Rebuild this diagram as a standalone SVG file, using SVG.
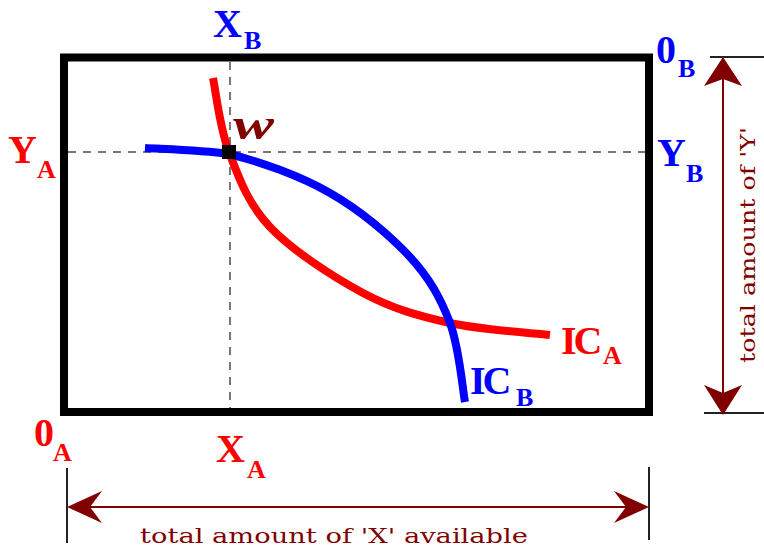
<svg xmlns="http://www.w3.org/2000/svg" width="764" height="549" viewBox="0 0 764 549">
<style>
.lbl{font-family:"Liberation Serif","DejaVu Serif",serif;font-weight:bold;font-size:40px}
.sub{font-size:26px}
.red{fill:#ff0000}
.blue{fill:#0000ff}
.cap{font-family:"DejaVu Serif","Liberation Serif",serif;font-size:20px;fill:#800000}
.dash{stroke:#777;stroke-width:2;stroke-dasharray:8 7;fill:none}
.tick{stroke:#222;stroke-width:2}
.arr{stroke:#800000;stroke-width:2;fill:none}
.head{fill:#800000}
.curve{fill:none;stroke-width:8;stroke-linecap:butt}
</style>
<rect width="764" height="549" fill="#fff"/>
<g id="box"><rect x="64" y="57.5" width="585" height="354.5" fill="none" stroke="#000" stroke-width="8"/></g>
<g id="guides">
<line class="dash" x1="230" y1="62" x2="230" y2="408"/>
<line class="dash" x1="68" y1="152" x2="645" y2="152"/>
</g>
<g id="ic-a"><path class="curve" stroke="#ff0000" d="M213,78 C215.7,90.3 219.5,127.2 229,152 C238.5,176.8 247.7,203.5 270,227 C292.3,250.5 333,277 363,293 C393,309 418.8,316 450,323 C481.2,330 533.3,333 550,335"/></g>
<g id="ic-b"><path class="curve" stroke="#0000ff" d="M145,148 C159,149 200,150 229,154 C259.8,161.5 299.8,175.8 330,193 C360.2,210.2 390,235.3 410,257 C430,278.7 440.8,298.8 450,323 C459.2,347.2 462.5,388.8 465,402"/></g>
<g id="w"><rect x="222" y="145" width="14" height="14" fill="#000"/>
<text x="233" y="139" font-family="Liberation Serif,serif" font-weight="bold" font-style="italic" font-size="44" fill="#800000" textLength="41" lengthAdjust="spacingAndGlyphs">w</text></g>
<g id="labels" class="lbl">
<text class="blue" x="213" y="37">X<tspan class="sub" x="244" y="49">B</tspan></text>
<text class="blue" x="656" y="63">0<tspan class="sub" x="678" y="77">B</tspan></text>
<text class="blue" x="657" y="166">Y<tspan class="sub" x="686" y="182">B</tspan></text>
<text class="red" x="8" y="163">Y<tspan class="sub" x="37" y="178">A</tspan></text>
<text class="red" x="34" y="446">0<tspan class="sub" x="53" y="461">A</tspan></text>
<text class="red" x="216" y="462">X<tspan class="sub" x="247" y="478">A</tspan></text>
<text class="red" x="561" y="354" letter-spacing="-3">IC<tspan class="sub" x="603" y="364" letter-spacing="0">A</tspan></text>
<text class="blue" x="470" y="394" letter-spacing="-3">IC<tspan class="sub" x="516" y="406" letter-spacing="0">B</tspan></text>
</g>
<g id="connectors">
<line class="tick" x1="710" y1="57" x2="764" y2="57"/>
<line class="tick" x1="704" y1="413" x2="764" y2="413"/>
<line class="tick" x1="67" y1="468" x2="67" y2="543"/>
<line class="tick" x1="649" y1="467" x2="649" y2="540"/>
<line class="arr" x1="723" y1="70" x2="723" y2="400"/>
<line class="arr" x1="80" y1="507" x2="636" y2="507"/>
<path class="head" d="M723,57 L742,86 L723,79 L704,86 Z"/>
<path class="head" d="M723,415 L742,385 L723,393 L704,385 Z"/>
<path class="head" d="M67,507 L102,491 L90,507 L102,523 Z"/>
<path class="head" d="M649,507 L614,491 L626,507 L614,523 Z"/>
</g>
<g id="captions">
<text class="cap" x="140" y="543" textLength="388" lengthAdjust="spacingAndGlyphs">total amount of 'X' available</text>
<text class="cap" transform="translate(755,363) rotate(-90)" x="0" y="0" textLength="236" lengthAdjust="spacingAndGlyphs">total amount of 'Y'</text>
</g>
</svg>
